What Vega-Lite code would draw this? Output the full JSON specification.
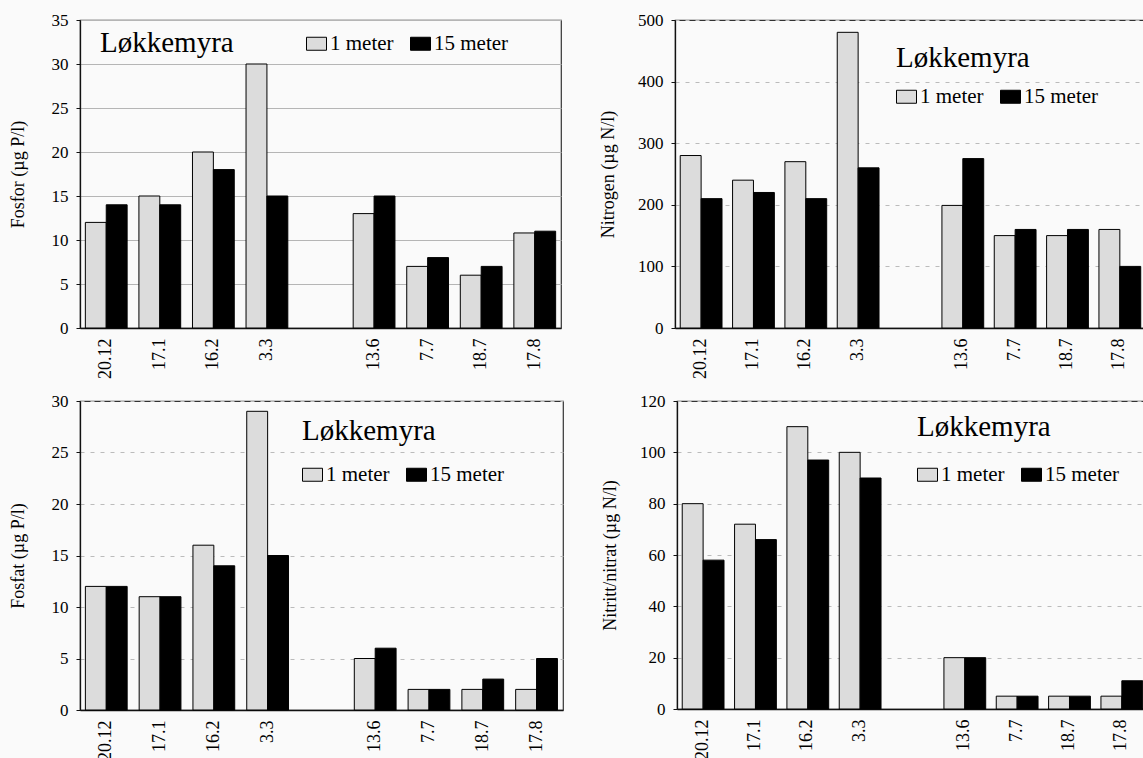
{
  "$schema": "https://vega.github.io/schema/vega-lite/v6.json",
  "background": "#fafafa",
  "padding": {"left": 8, "top": 10, "right": 0, "bottom": 0},
  "datasets": {
    "d": [
      {"p": "P", "d": "20.12", "m": "1 meter", "v": 12}, {"p": "P", "d": "20.12", "m": "15 meter", "v": 14},
      {"p": "P", "d": "17.1", "m": "1 meter", "v": 15}, {"p": "P", "d": "17.1", "m": "15 meter", "v": 14},
      {"p": "P", "d": "16.2", "m": "1 meter", "v": 20}, {"p": "P", "d": "16.2", "m": "15 meter", "v": 18},
      {"p": "P", "d": "3.3", "m": "1 meter", "v": 30}, {"p": "P", "d": "3.3", "m": "15 meter", "v": 15},
      {"p": "P", "d": "13.6", "m": "1 meter", "v": 13}, {"p": "P", "d": "13.6", "m": "15 meter", "v": 15},
      {"p": "P", "d": "7.7", "m": "1 meter", "v": 7}, {"p": "P", "d": "7.7", "m": "15 meter", "v": 8},
      {"p": "P", "d": "18.7", "m": "1 meter", "v": 6}, {"p": "P", "d": "18.7", "m": "15 meter", "v": 7},
      {"p": "P", "d": "17.8", "m": "1 meter", "v": 10.8}, {"p": "P", "d": "17.8", "m": "15 meter", "v": 11},
      {"p": "N", "d": "20.12", "m": "1 meter", "v": 280}, {"p": "N", "d": "20.12", "m": "15 meter", "v": 210},
      {"p": "N", "d": "17.1", "m": "1 meter", "v": 240}, {"p": "N", "d": "17.1", "m": "15 meter", "v": 220},
      {"p": "N", "d": "16.2", "m": "1 meter", "v": 270}, {"p": "N", "d": "16.2", "m": "15 meter", "v": 210},
      {"p": "N", "d": "3.3", "m": "1 meter", "v": 480}, {"p": "N", "d": "3.3", "m": "15 meter", "v": 260},
      {"p": "N", "d": "13.6", "m": "1 meter", "v": 199}, {"p": "N", "d": "13.6", "m": "15 meter", "v": 275},
      {"p": "N", "d": "7.7", "m": "1 meter", "v": 150}, {"p": "N", "d": "7.7", "m": "15 meter", "v": 160},
      {"p": "N", "d": "18.7", "m": "1 meter", "v": 150}, {"p": "N", "d": "18.7", "m": "15 meter", "v": 160},
      {"p": "N", "d": "17.8", "m": "1 meter", "v": 160}, {"p": "N", "d": "17.8", "m": "15 meter", "v": 100},
      {"p": "F", "d": "20.12", "m": "1 meter", "v": 12}, {"p": "F", "d": "20.12", "m": "15 meter", "v": 12},
      {"p": "F", "d": "17.1", "m": "1 meter", "v": 11}, {"p": "F", "d": "17.1", "m": "15 meter", "v": 11},
      {"p": "F", "d": "16.2", "m": "1 meter", "v": 16}, {"p": "F", "d": "16.2", "m": "15 meter", "v": 14},
      {"p": "F", "d": "3.3", "m": "1 meter", "v": 29}, {"p": "F", "d": "3.3", "m": "15 meter", "v": 15},
      {"p": "F", "d": "13.6", "m": "1 meter", "v": 5}, {"p": "F", "d": "13.6", "m": "15 meter", "v": 6},
      {"p": "F", "d": "7.7", "m": "1 meter", "v": 2}, {"p": "F", "d": "7.7", "m": "15 meter", "v": 2},
      {"p": "F", "d": "18.7", "m": "1 meter", "v": 2}, {"p": "F", "d": "18.7", "m": "15 meter", "v": 3},
      {"p": "F", "d": "17.8", "m": "1 meter", "v": 2}, {"p": "F", "d": "17.8", "m": "15 meter", "v": 5},
      {"p": "X", "d": "20.12", "m": "1 meter", "v": 80}, {"p": "X", "d": "20.12", "m": "15 meter", "v": 58},
      {"p": "X", "d": "17.1", "m": "1 meter", "v": 72}, {"p": "X", "d": "17.1", "m": "15 meter", "v": 66},
      {"p": "X", "d": "16.2", "m": "1 meter", "v": 110}, {"p": "X", "d": "16.2", "m": "15 meter", "v": 97},
      {"p": "X", "d": "3.3", "m": "1 meter", "v": 100}, {"p": "X", "d": "3.3", "m": "15 meter", "v": 90},
      {"p": "X", "d": "13.6", "m": "1 meter", "v": 20}, {"p": "X", "d": "13.6", "m": "15 meter", "v": 20},
      {"p": "X", "d": "7.7", "m": "1 meter", "v": 5}, {"p": "X", "d": "7.7", "m": "15 meter", "v": 5},
      {"p": "X", "d": "18.7", "m": "1 meter", "v": 5}, {"p": "X", "d": "18.7", "m": "15 meter", "v": 5},
      {"p": "X", "d": "17.8", "m": "1 meter", "v": 5}, {"p": "X", "d": "17.8", "m": "15 meter", "v": 11}
    ]
  },
  "data": {"name": "d"},
  "config": {
    "font": "Liberation Serif",
    "view": {"stroke": "#333", "strokeWidth": 1.2},
    "axis": {
      "labelFont": "Liberation Serif", "titleFont": "Liberation Serif",
      "labelColor": "#000", "titleColor": "#000", "titleFontWeight": "normal",
      "domainColor": "#111", "domainWidth": 1.3, "tickColor": "#111"
    },
    "axisX": {"labelAngle": 270, "labelFontSize": 18, "ticks": false, "labelPadding": 10, "title": null, "grid": false},
    "axisY": {"labelFontSize": 17, "titleFontSize": 18, "tickSize": 4, "labelPadding": 8, "titlePadding": 24, "gridColor": "#bbbbbb", "gridDash": [4, 6], "gridWidth": 1.2},
    "legend": {
      "orient": "none", "direction": "horizontal", "columns": 2, "padding": 0,
      "titleFont": "Liberation Serif", "titleFontSize": 29, "titleFontWeight": "normal", "titleColor": "#000", "titleLimit": 0,
      "labelFont": "Liberation Serif", "labelFontSize": 21, "labelColor": "#000", "labelLimit": 0, "labelOffset": 3,
      "symbolType": "M-1,-0.65H1V0.65H-1Z", "symbolSize": 400, "symbolStrokeColor": "#000", "symbolStrokeWidth": 1,
      "columnPadding": 14
    },
    "bar": {"stroke": "#000", "strokeWidth": 1}
  },
  "spacing": 11,
  "resolve": {"scale": {"color": "independent"}, "legend": {"color": "independent"}},
  "vconcat": [
    {
      "spacing": 36,
      "resolve": {"scale": {"color": "independent"}, "legend": {"color": "independent"}},
      "hconcat": [
        {
          "width": 481, "height": 308,
          "transform": [{"filter": "datum.p == 'P'"}],
          "mark": {"type": "bar"},
          "encoding": {
            "x": {"field": "d", "type": "nominal", "scale": {"domain": ["20.12", "17.1", "16.2", "3.3", " ", "13.6", "7.7", "18.7", "17.8"], "paddingInner": 0.22, "paddingOuter": 0.1}},
            "xOffset": {"field": "m", "type": "nominal", "scale": {"domain": ["1 meter", "15 meter"], "paddingInner": 0, "paddingOuter": 0}},
            "y": {"field": "v", "type": "quantitative", "scale": {"domain": [0, 35]}, "axis": {"title": "Fosfor (µg P/l)", "values": [0, 5, 10, 15, 20, 25, 30, 35], "gridDash": [], "gridColor": "#b5b5b5"}},
            "color": {"field": "m", "type": "nominal", "scale": {"domain": ["1 meter", "15 meter"], "range": ["#dcdcdc", "#000000"]},
              "legend": {"title": "Løkkemyra", "legendX": 20, "legendY": 13, "titleOrient": "left", "titlePadding": 72}}
          }
        },
        {
          "width": 470, "height": 308,
          "transform": [{"filter": "datum.p == 'N'"}],
          "mark": {"type": "bar"},
          "encoding": {
            "x": {"field": "d", "type": "nominal", "scale": {"domain": ["20.12", "17.1", "16.2", "3.3", " ", "13.6", "7.7", "18.7", "17.8"], "paddingInner": 0.22, "paddingOuter": 0.1}},
            "xOffset": {"field": "m", "type": "nominal", "scale": {"domain": ["1 meter", "15 meter"], "paddingInner": 0, "paddingOuter": 0}},
            "y": {"field": "v", "type": "quantitative", "scale": {"domain": [0, 500]}, "axis": {"title": "Nitrogen (µg N/l)", "values": [0, 100, 200, 300, 400, 500], "titlePadding": 20}},
            "color": {"field": "m", "type": "nominal", "scale": {"domain": ["1 meter", "15 meter"], "range": ["#dcdcdc", "#000000"]},
              "legend": {"title": "Løkkemyra", "legendX": 221, "legendY": 24, "titlePadding": 13}}
          }
        }
      ]
    },
    {
      "spacing": 36,
      "resolve": {"scale": {"color": "independent"}, "legend": {"color": "independent"}},
      "hconcat": [
        {
          "width": 483, "height": 309,
          "transform": [{"filter": "datum.p == 'F'"}],
          "mark": {"type": "bar"},
          "encoding": {
            "x": {"field": "d", "type": "nominal", "scale": {"domain": ["20.12", "17.1", "16.2", "3.3", " ", "13.6", "7.7", "18.7", "17.8"], "paddingInner": 0.22, "paddingOuter": 0.1}},
            "xOffset": {"field": "m", "type": "nominal", "scale": {"domain": ["1 meter", "15 meter"], "paddingInner": 0, "paddingOuter": 0}},
            "y": {"field": "v", "type": "quantitative", "scale": {"domain": [0, 30]}, "axis": {"title": "Fosfat (µg P/l)", "values": [0, 5, 10, 15, 20, 25, 30]}},
            "color": {"field": "m", "type": "nominal", "scale": {"domain": ["1 meter", "15 meter"], "range": ["#dcdcdc", "#000000"]},
              "legend": {"title": "Løkkemyra", "legendX": 222, "legendY": 16, "titlePadding": 18}}
          }
        },
        {
          "width": 470, "height": 308,
          "transform": [{"filter": "datum.p == 'X'"}],
          "mark": {"type": "bar"},
          "encoding": {
            "x": {"field": "d", "type": "nominal", "scale": {"domain": ["20.12", "17.1", "16.2", "3.3", " ", "13.6", "7.7", "18.7", "17.8"], "paddingInner": 0.22, "paddingOuter": 0.1}},
            "xOffset": {"field": "m", "type": "nominal", "scale": {"domain": ["1 meter", "15 meter"], "paddingInner": 0, "paddingOuter": 0}},
            "y": {"field": "v", "type": "quantitative", "scale": {"domain": [0, 120]}, "axis": {"title": "Nitritt/nitrat (µg N/l)", "values": [0, 20, 40, 60, 80, 100, 120], "titlePadding": 20}},
            "color": {"field": "m", "type": "nominal", "scale": {"domain": ["1 meter", "15 meter"], "range": ["#dcdcdc", "#000000"]},
              "legend": {"title": "Løkkemyra", "legendX": 240, "legendY": 12, "titlePadding": 22}}
          }
        }
      ]
    }
  ]
}
